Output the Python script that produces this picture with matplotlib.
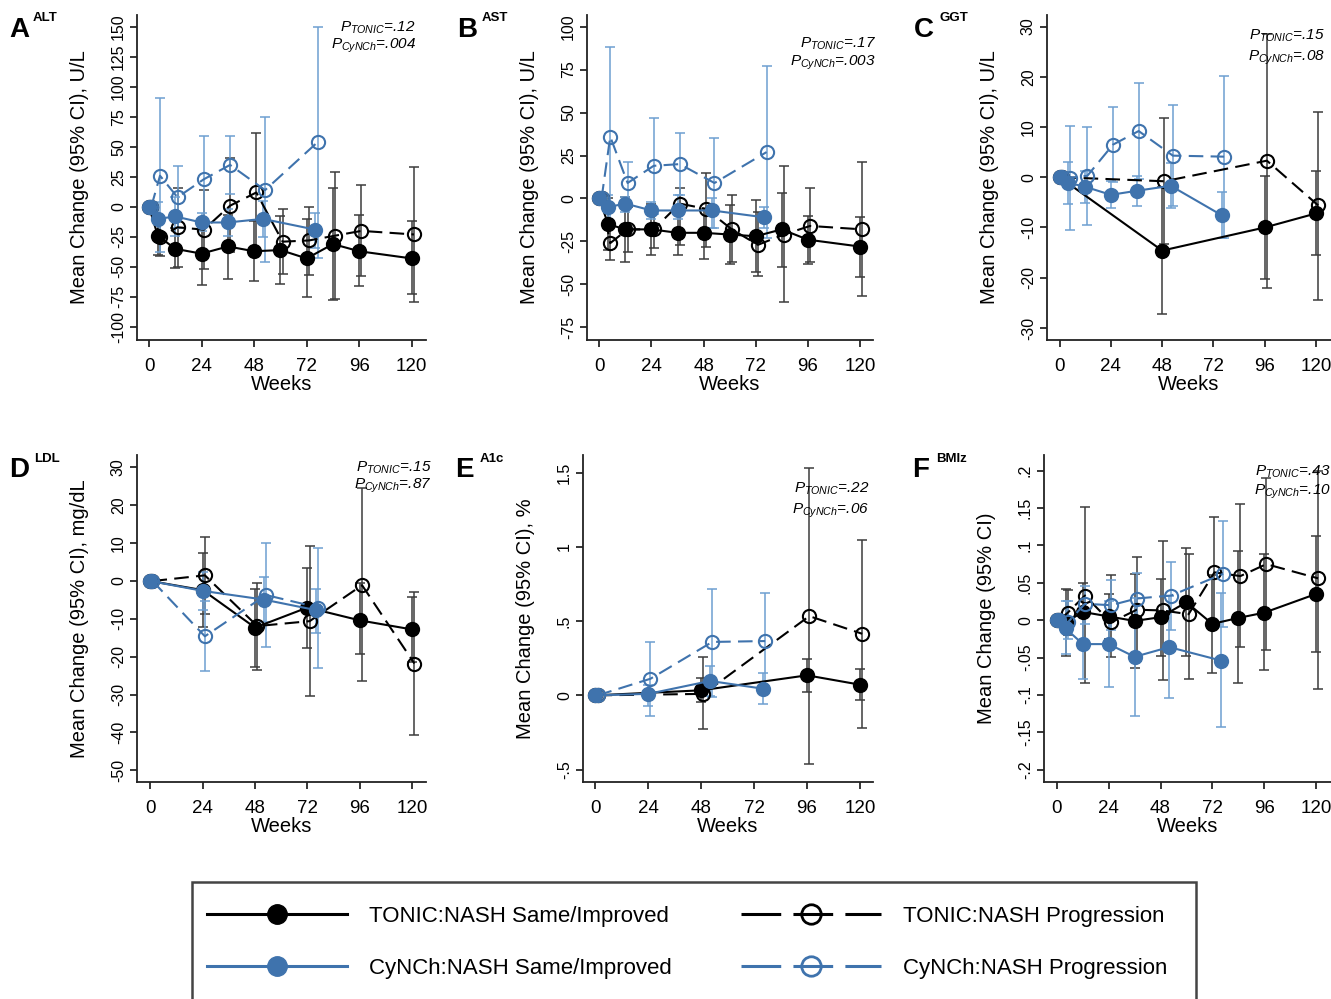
import matplotlib
matplotlib.use("Agg")
import matplotlib.pyplot as plt
from matplotlib.lines import Line2D
from matplotlib.patches import Rectangle
from matplotlib.ticker import FuncFormatter
import numpy as np

plt.rcParams['font.family'] = ['Liberation Sans', 'DejaVu Sans']
plt.rcParams['mathtext.fontset'] = 'custom'
plt.rcParams['mathtext.it'] = 'Liberation Sans:italic'
plt.rcParams['mathtext.rm'] = 'Liberation Sans'

# visit weeks
tonic_weeks = [0, 4, 12, 24, 36, 48, 60, 72, 84, 96, 120]
cynch_weeks = [0, 4, 12, 24, 36, 52, 76]
tonic_weeks_short = [0, 48, 96, 120]
tonic_weeks_ldl = [0, 24, 48, 72, 96, 120]
cynch_weeks_short = [0, 24, 52, 76]

# A - ALT
alt_tsi = [0, -24, -35, -39, -33, -37, -36, -43, -31, -37, -43]
alt_tsi_lo = [0, -40, -51, -65, -60, -62, -64, -75, -78, -66, -73]
alt_tsi_hi = [0, -8, -18, -13, -7, -12, -8, -10, 16, -7, -12]
alt_tpr = [0, -25, -17, -19, 1, 12, -29, -28, -24, -20, -23]
alt_tpr_lo = [0, -41, -50, -52, -38, -37, -56, -57, -77, -58, -79]
alt_tpr_hi = [0, -9, 16, 14, 41, 62, -2, 0, 29, 18, 33]
alt_csi = [0, -10, -8, -13, -13, -10, -19]
alt_csi_lo = [0, -25, -24, -20, -24, -25, -34]
alt_csi_hi = [0, 4, 8, -5, -2, 5, -5]
alt_cpr = [0, 26, 8, 23, 35, 14, 54]
alt_cpr_lo = [0, -38, -18, -14, 11, -46, -43]
alt_cpr_hi = [0, 91, 34, 59, 59, 75, 150]

# B - AST
ast_tsi = [0, -15, -18, -18, -20, -20, -21, -22, -18, -24, -28]
ast_tsi_lo = [0, -30, -37, -33, -33, -35, -38, -43, -40, -38, -46]
ast_tsi_hi = [0, 0, 1, -3, -7, -6, -4, -1, 3, -10, -11]
ast_tpr = [0, -26, -18, -18, -3, -6, -18, -27, -21, -16, -18]
ast_tpr_lo = [0, -36, -31, -29, -27, -28, -37, -45, -60, -37, -57]
ast_tpr_hi = [0, -16, -5, -7, 6, 15, 2, -8, 19, 6, 21]
ast_csi = [0, -5, -3, -7, -7, -7, -11]
ast_csi_lo = [0, -16, -8, -12, -12, -17, -17]
ast_csi_hi = [0, 2, 1, -2, 2, 0, -5]
ast_cpr = [0, 36, 9, 19, 20, 9, 27]
ast_cpr_lo = [0, -16, -3, -9, 2, -17, -23]
ast_cpr_hi = [0, 88, 21, 47, 38, 35, 77]

# C - GGT
ggt_tsi = [0, -14.6, -10, -7.2]
ggt_tsi_lo = [0, -27.3, -20.3, -15.5]
ggt_tsi_hi = [0, -1.9, 0.3, 1.3]
ggt_tpr = [0, -0.8, 3.3, -5.6]
ggt_tpr_lo = [0, -13.3, -22, -24.4]
ggt_tpr_hi = [0, 11.7, 28.6, 12.9]
ggt_csi = [0, -1.1, -1.9, -3.5, -2.7, -1.7, -7.6]
ggt_csi_lo = [0, -5.3, -5.1, -6.2, -5.7, -6.2, -12]
ggt_csi_hi = [0, 3.1, 1.3, -0.8, 0.3, 2.9, -3]
ggt_cpr = [0, -0.1, 0.3, 6.5, 9.2, 4.3, 4.1]
ggt_cpr_lo = [0, -10.6, -9.6, -0.9, -0.4, -5.8, -12.1]
ggt_cpr_hi = [0, 10.3, 10.1, 13.9, 18.8, 14.4, 20.2]

# D - LDL
ldl_tsi = [0, -2.4, -12.3, -7, -10.4, -12.8]
ldl_tsi_lo = [0, -12.1, -22.7, -17.6, -19.3, -21.4]
ldl_tsi_hi = [0, 7.3, -2, 3.5, -0.6, -4.3]
ldl_tpr = [0, 1.5, -11.9, -10.6, -1.1, -21.8]
ldl_tpr_lo = [0, -8.7, -23.4, -30.4, -26.4, -40.6]
ldl_tpr_hi = [0, 11.7, -0.5, 9.3, 24.7, -2.8]
ldl_csi = [0, -2.6, -4.9, -7.7]
ldl_csi_lo = [0, -7.7, -10.8, -13.7]
ldl_csi_hi = [0, 2.5, 1.1, -2.2]
ldl_cpr = [0, -14.6, -3.7, -7]
ldl_cpr_lo = [0, -23.8, -17.4, -23.1]
ldl_cpr_hi = [0, -5.4, 10, 8.8]

# E - A1c
a1c_tsi = [0, 0.034, 0.135, 0.072]
a1c_tsi_lo = [0, -0.045, 0.022, -0.034]
a1c_tsi_hi = [0, 0.12, 0.247, 0.18]
a1c_tpr = [0, 0.01, 0.534, 0.415]
a1c_tpr_lo = [0, -0.23, -0.46, -0.22]
a1c_tpr_hi = [0, 0.26, 1.53, 1.05]
a1c_csi = [0, 0.01, 0.097, 0.045]
a1c_csi_lo = [0, -0.074, -0.007, -0.056]
a1c_csi_hi = [0, 0.067, 0.2, 0.15]
a1c_cpr = [0, 0.112, 0.36, 0.366]
a1c_cpr_lo = [0, -0.14, -0.01, 0.045]
a1c_cpr_hi = [0, 0.36, 0.714, 0.69]

# F - BMIz
bmi_tsi = [0, -0.003, 0.011, 0.005, -0.001, 0.004, 0.024, -0.005, 0.003, 0.010, 0.035]
bmi_tsi_lo = [0, -0.048, -0.03, -0.025, -0.064, -0.048, -0.048, -0.07, -0.084, -0.066, -0.042]
bmi_tsi_hi = [0, 0.042, 0.05, 0.035, 0.062, 0.055, 0.096, 0.061, 0.092, 0.088, 0.112]
bmi_tpr = [0, 0.010, 0.033, -0.003, 0.014, 0.013, 0.008, 0.064, 0.059, 0.075, 0.056]
bmi_tpr_lo = [0, -0.02, -0.084, -0.049, -0.055, -0.080, -0.079, -0.010, -0.036, -0.040, -0.092]
bmi_tpr_hi = [0, 0.04, 0.151, 0.060, 0.084, 0.106, 0.088, 0.138, 0.155, 0.190, 0.200]
bmi_csi = [0, -0.011, -0.032, -0.032, -0.049, -0.036, -0.054]
bmi_csi_lo = [0, -0.045, -0.079, -0.089, -0.128, -0.104, -0.143]
bmi_csi_hi = [0, 0.025, 0.015, 0.025, 0.030, 0.032, 0.036]
bmi_cpr = [0, -0.003, 0.022, 0.020, 0.029, 0.033, 0.062]
bmi_cpr_lo = [0, -0.025, -0.005, -0.013, -0.005, -0.013, -0.009]
bmi_cpr_hi = [0, 0.025, 0.046, 0.054, 0.063, 0.078, 0.133]

# p-values
p_tonic = ['.12', '.17', '.15', '.15', '.22', '.43']
p_cynch = ['.004', '.003', '.08', '.87', '.06', '.10']

legend_labels = ['TONIC:NASH Same/Improved', 'CyNCh:NASH Same/Improved',
                 'TONIC:NASH Progression', 'CyNCh:NASH Progression']

W, H = 1331, 999
fig = plt.figure(figsize=(W / 100, H / 100), dpi=100)

BLUE = '#3f73ad'
BLUE_BAR = '#6e9fd1'
GREY_BAR = '#3c3c3c'
DASH = (0, (7, 3.5))


def px_box(l, t, r, b):
    return [l / W, 1 - b / H, (r - l) / W, (b - t) / H]


def stata_fmt(v, pos=None):
    if abs(v) < 1e-9:
        return "0"
    s = f"{v:g}"
    if s.startswith("0."):
        s = s[1:]
    s = s.replace("-0.", "-.")
    return s


def series(ax, x, m, lo, hi, color, ecolor, ls, filled):
    m = np.asarray(m, float)
    err = [m - np.asarray(lo, float), np.asarray(hi, float) - m]
    ax.errorbar(x, m, yerr=err, fmt='none', ecolor=ecolor, elinewidth=1.1,
                capsize=3.5, capthick=1.1, zorder=2)
    ax.plot(x, m, color=color, lw=1.5, ls=ls, marker='o', ms=9.5,
            mfc=color if filled else 'none', mec=color, mew=1.5, zorder=3)


panels = [
    dict(box=(137, 15, 426, 340), xlim=(-5.5, 126.5), ylim=(-111, 160),
         yticks=np.arange(-100, 151, 25), ylabel='Mean Change (95% CI), U/L',
         letter='A', tag='ALT', lpos=(9, 30), tpos=(33, 18),
         ppos=(0.965, 0.962, 0.905),
         tonic=(tonic_weeks, alt_tsi, alt_tsi_lo, alt_tsi_hi, alt_tpr, alt_tpr_lo, alt_tpr_hi),
         cynch=(cynch_weeks, alt_csi, alt_csi_lo, alt_csi_hi, alt_cpr, alt_cpr_lo, alt_cpr_hi)),
    dict(box=(587, 15, 873, 340), xlim=(-5.7, 126), ylim=(-82.4, 106.8),
         yticks=np.arange(-75, 101, 25), ylabel='Mean Change (95% CI), U/L',
         letter='B', tag='AST', lpos=(457, 30), tpos=(482, 18),
         ppos=(1.01, 0.91, 0.853),
         tonic=(tonic_weeks, ast_tsi, ast_tsi_lo, ast_tsi_hi, ast_tpr, ast_tpr_lo, ast_tpr_hi),
         cynch=(cynch_weeks, ast_csi, ast_csi_lo, ast_csi_hi, ast_cpr, ast_cpr_lo, ast_cpr_hi)),
    dict(box=(1047, 15, 1331, 340), xlim=(-5.9, 127), ylim=(-32.4, 32.3),
         yticks=np.arange(-30, 31, 10), ylabel='Mean Change (95% CI), U/L',
         letter='C', tag='GGT', lpos=(914, 30), tpos=(939, 18),
         ppos=(0.98, 0.935, 0.868),
         tonic=(tonic_weeks_short, ggt_tsi, ggt_tsi_lo, ggt_tsi_hi, ggt_tpr, ggt_tpr_lo, ggt_tpr_hi),
         cynch=(cynch_weeks, ggt_csi, ggt_csi_lo, ggt_csi_hi, ggt_cpr, ggt_cpr_lo, ggt_cpr_hi)),
    dict(box=(137, 455, 426, 782), xlim=(-6.1, 126.3), ylim=(-53.1, 33.3),
         yticks=np.arange(-50, 31, 10), ylabel='Mean Change (95% CI), mg/dL',
         letter='D', tag='LDL', lpos=(9, 470), tpos=(34, 459),
         ppos=(1.02, 0.962, 0.907),
         tonic=(tonic_weeks_ldl, ldl_tsi, ldl_tsi_lo, ldl_tsi_hi, ldl_tpr, ldl_tpr_lo, ldl_tpr_hi),
         cynch=(cynch_weeks_short, ldl_csi, ldl_csi_lo, ldl_csi_hi, ldl_cpr, ldl_cpr_lo, ldl_cpr_hi)),
    dict(box=(583, 455, 873, 782), xlim=(-5.6, 125.9), ylim=(-0.584, 1.62),
         yticks=[-0.5, 0, 0.5, 1, 1.5], ylabel='Mean Change (95% CI), %',
         letter='E', tag='A1c', lpos=(455, 470), tpos=(480, 459),
         ppos=(0.987, 0.898, 0.828),
         tonic=(tonic_weeks_short, a1c_tsi, a1c_tsi_lo, a1c_tsi_hi, a1c_tpr, a1c_tpr_lo, a1c_tpr_hi),
         cynch=(cynch_weeks_short, a1c_csi, a1c_csi_lo, a1c_csi_hi, a1c_cpr, a1c_cpr_lo, a1c_cpr_hi)),
    dict(box=(1044, 455, 1331, 782), xlim=(-6, 127), ylim=(-0.2165, 0.221),
         yticks=np.round(np.arange(-0.2, 0.201, 0.05), 2), ylabel='Mean Change (95% CI)',
         letter='F', tag='BMIz', lpos=(912, 470), tpos=(936, 459),
         ppos=(1.0, 0.95, 0.888),
         tonic=(tonic_weeks, bmi_tsi, bmi_tsi_lo, bmi_tsi_hi, bmi_tpr, bmi_tpr_lo, bmi_tpr_hi),
         cynch=(cynch_weeks, bmi_csi, bmi_csi_lo, bmi_csi_hi, bmi_cpr, bmi_cpr_lo, bmi_cpr_hi)),
]

for i, p in enumerate(panels):
    ax = fig.add_axes(px_box(*p['box']))
    tw, tsi, tsi_lo, tsi_hi, tpr, tpr_lo, tpr_hi = p['tonic']
    cw, csi, csi_lo, csi_hi, cpr, cpr_lo, cpr_hi = p['cynch']
    tw = np.asarray(tw, float)
    cw = np.asarray(cw, float)
    series(ax, tw, tsi, tsi_lo, tsi_hi, 'black', GREY_BAR, '-', True)
    series(ax, tw + 1, tpr, tpr_lo, tpr_hi, 'black', GREY_BAR, DASH, False)
    series(ax, cw, csi, csi_lo, csi_hi, BLUE, BLUE_BAR, '-', True)
    series(ax, cw + 1, cpr, cpr_lo, cpr_hi, BLUE, BLUE_BAR, DASH, False)

    ax.set_xlim(*p['xlim'])
    ax.set_ylim(*p['ylim'])
    ax.set_xticks([0, 24, 48, 72, 96, 120])
    ax.set_yticks(p['yticks'])
    ax.yaxis.set_major_formatter(FuncFormatter(stata_fmt))
    for s in ['top', 'right']:
        ax.spines[s].set_visible(False)
    for s in ['left', 'bottom']:
        ax.spines[s].set_linewidth(1.3)
        ax.spines[s].set_color('#222222')
    ax.tick_params(axis='x', labelsize=13.5, length=5, width=1.1, pad=8)
    ax.tick_params(axis='y', labelsize=11.5, length=5, width=1.1, pad=3)
    for lab in ax.get_yticklabels():
        lab.set_rotation(90)
        lab.set_va('center')
    ax.set_xlabel('Weeks', fontsize=14.5, labelpad=0)
    ax.set_ylabel(p['ylabel'], fontsize=14.5, labelpad=15.5)

    px, py1, py2 = p['ppos']
    ax.text(px, py1, r'$P_{TONIC}$' + '=' + p_tonic[i], transform=ax.transAxes,
            ha='right', va='center', fontsize=11, style='italic')
    ax.text(px, py2, r'$P_{CyNCh}$' + '=' + p_cynch[i], transform=ax.transAxes,
            ha='right', va='center', fontsize=11, style='italic')

    lx, ly = p['lpos']
    fig.text(lx / W, 1 - ly / H, p['letter'], fontsize=20, fontweight='bold',
             ha='left', va='center')
    tx, ty = p['tpos']
    fig.text(tx / W, 1 - ty / H, p['tag'], fontsize=9.5, fontweight='bold',
             ha='left', va='center')

# legend
handles = [
    Line2D([], [], color='black', lw=2.2, marker='o', ms=14, mfc='black', mec='black'),
    Line2D([], [], color=BLUE, lw=2.2, marker='o', ms=14, mfc=BLUE, mec=BLUE),
    Line2D([], [], color='black', lw=2.2, ls=(0, (13, 4)), marker='o', ms=14,
           mfc='none', mec='black', mew=2),
    Line2D([], [], color=BLUE, lw=2.2, ls=(0, (13, 4)), marker='o', ms=14,
           mfc='none', mec=BLUE, mew=2),
]
fig.legend(handles, legend_labels, ncol=2, loc='upper left',
           bbox_to_anchor=(207 / W, 1 - 906 / H), frameon=False, fontsize=16,
           handlelength=6.3, handletextpad=1.0, columnspacing=3.1,
           labelspacing=1.4, borderpad=0, borderaxespad=0, numpoints=1)
fig.add_artist(Rectangle((192 / W, -0.02), (1196 - 192) / W, 1 - 882 / H + 0.02,
                         transform=fig.transFigure, fill=False, lw=1.8,
                         edgecolor='#444444'))

fig.savefig('out.png', dpi=100)
